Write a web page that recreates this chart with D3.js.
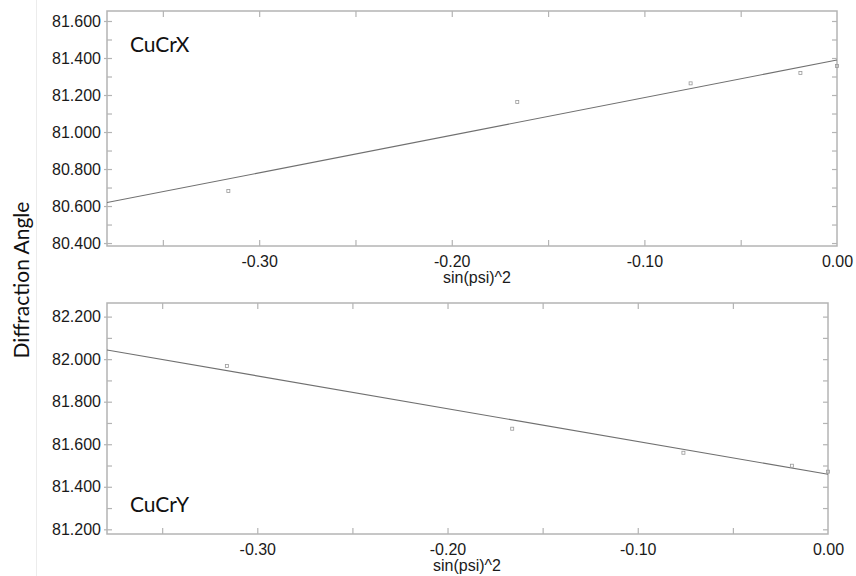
<!DOCTYPE html>
<html>
<head>
<meta charset="utf-8">
<script src="https://cdn.jsdelivr.net/npm/d3@7/dist/d3.min.js"></script>
<style>
  html, body { margin: 0; padding: 0; background: #fff; }
  svg { display: block; }
</style>
</head>
<body>
<svg id="chart" width="856" height="576"></svg>
<script>
// sin^2(psi) positions of the measurements (shared by both directions)
const sin2psi = [-0.316, -0.166, -0.076, -0.019, 0.0];

// Measured peak positions (2-theta, degrees)
const angleX = [80.681, 81.162, 81.263, 81.319, 81.357];
const angleY = [81.968, 81.673, 81.560, 81.499, 81.471];

// Linear fit of each direction: angle = intercept + slope * sin^2(psi)
const fitX = { intercept: 81.389, slope: 2.032 };
const fitY = { intercept: 81.459, slope: -1.541 };

// Axis ticks
const xDomain = [-0.379, 0.0];
const xTickValues = [-0.30, -0.20, -0.10, 0.00];
const xTickLabels = ["-0.30", "-0.20", "-0.10", "0.00"];
const xMinorTicks = [-0.35, -0.30, -0.25, -0.20, -0.15, -0.10, -0.05];

const yDomainX = [80.384, 81.654];
const yTicksX = [80.4, 80.6, 80.8, 81.0, 81.2, 81.4, 81.6];
const yDomainY = [81.178, 82.264];
const yTicksY = [81.2, 81.4, 81.6, 81.8, 82.0, 82.2];

const panelNames = ["CuCrX", "CuCrY"];
const xTitle = "sin(psi)^2";
const yTitle = "Diffraction Angle";

const svg = d3.select("#chart");
const frameColor = "#b4b4b4";
const tickFont = "'Liberation Sans', Arial, sans-serif";
const labelFont = "Lato, 'Open Sans', sans-serif";

// faint separator at the far left of the figure
svg.append("line")
  .attr("x1", 36.5).attr("x2", 36.5).attr("y1", 0).attr("y2", 576)
  .attr("stroke", "#ececec").attr("stroke-width", 1);

const panels = [
  { name: panelNames[0], values: angleX, fit: fitX, yDomain: yDomainX, yTicks: yTicksX,
    left: 107, right: 837, top: 11, bottom: 246, titleX: 477, nameY: 51.5, nameX: 130 },
  { name: panelNames[1], values: angleY, fit: fitY, yDomain: yDomainY, yTicks: yTicksY,
    left: 107, right: 828, top: 303, bottom: 534, titleX: 467, nameY: 511.5, nameX: 130 }
];

function minorOf(ticks) {
  const out = [];
  ticks.forEach((t, i) => {
    out.push(t);
    if (i < ticks.length - 1) out.push(+(t + (ticks[i + 1] - t) / 2).toFixed(3));
  });
  return out;
}

panels.forEach(p => {
  const x = d3.scaleLinear().domain(xDomain).range([p.left, p.right]);
  const y = d3.scaleLinear().domain(p.yDomain).range([p.bottom, p.top]);
  const g = svg.append("g");

  // clip region of the plot frame
  const clipId = "clip-" + p.name;
  svg.append("clipPath").attr("id", clipId)
    .append("rect")
    .attr("x", p.left).attr("y", p.top)
    .attr("width", p.right - p.left).attr("height", p.bottom - p.top);

  const styleAxis = sel => {
    sel.selectAll(".domain").remove();
    sel.selectAll(".tick line").attr("stroke", frameColor).attr("stroke-width", 1.2);
    sel.selectAll(".tick text").attr("fill", "#1a1a1a")
      .style("font-family", tickFont).style("font-size", "16px");
  };

  // bottom axis: inward ticks every 0.05, labels every 0.10
  g.append("g").attr("transform", `translate(0,${p.bottom})`)
    .call(d3.axisBottom(x).tickValues(xMinorTicks).tickSize(-6).tickFormat(""))
    .call(styleAxis);
  g.append("g").attr("transform", `translate(0,${p.bottom})`)
    .call(d3.axisBottom(x).tickValues(xTickValues).tickSize(0).tickPadding(10)
      .tickFormat((d, i) => xTickLabels[i]))
    .call(styleAxis);

  // top axis: inward ticks, no labels
  g.append("g").attr("transform", `translate(0,${p.top})`)
    .call(d3.axisTop(x).tickValues(xMinorTicks).tickSize(-6).tickFormat(""))
    .call(styleAxis);

  // left axis: inward ticks every 0.1, labels every 0.2
  const yMinor = minorOf(p.yTicks).filter(v => v >= p.yDomain[0] && v <= p.yDomain[1]);
  g.append("g").attr("transform", `translate(${p.left},0)`)
    .call(d3.axisLeft(y).tickValues(yMinor).tickSize(-5).tickFormat(""))
    .call(styleAxis);
  g.append("g").attr("transform", `translate(${p.left},0)`)
    .call(d3.axisLeft(y).tickValues(p.yTicks).tickSize(3).tickPadding(3)
      .tickFormat(d3.format(".3f")))
    .call(styleAxis);

  // right axis: inward ticks
  g.append("g").attr("transform", `translate(${p.right},0)`)
    .call(d3.axisRight(y).tickValues(yMinor).tickSize(-5).tickFormat(""))
    .call(styleAxis);

  // frame
  g.append("rect")
    .attr("x", p.left).attr("y", p.top)
    .attr("width", p.right - p.left).attr("height", p.bottom - p.top)
    .attr("fill", "none").attr("stroke", frameColor).attr("stroke-width", 1.5);

  // fitted line across the full x range
  const fitLine = d3.line()
    .x(d => x(d))
    .y(d => y(p.fit.intercept + p.fit.slope * d));
  g.append("path")
    .datum(xDomain)
    .attr("d", fitLine)
    .attr("fill", "none")
    .attr("stroke", "#707070")
    .attr("stroke-width", 1.1)
    .attr("clip-path", `url(#${clipId})`);

  // measured points as small open squares
  g.selectAll("rect.pt")
    .data(sin2psi.map((s, i) => [s, p.values[i]]))
    .join("rect")
    .attr("class", "pt")
    .attr("x", d => x(d[0]) - 1.5)
    .attr("y", d => y(d[1]) - 1.5)
    .attr("width", 3).attr("height", 3)
    .attr("fill", "none")
    .attr("stroke", "#999")
    .attr("stroke-width", 0.8);

  // x-axis title
  g.append("text")
    .attr("x", p.titleX).attr("y", p.bottom + 37)
    .attr("text-anchor", "middle")
    .style("font-family", tickFont).style("font-size", "16px")
    .attr("fill", "#1a1a1a")
    .text(xTitle);

  // panel name
  g.append("text")
    .attr("x", p.nameX).attr("y", p.nameY)
    .style("font-family", labelFont).style("font-size", "21px")
    .attr("fill", "#111")
    .text(p.name);
});

// shared y-axis title
svg.append("text")
  .attr("transform", "translate(29,280) rotate(-90)")
  .attr("text-anchor", "middle")
  .style("font-family", labelFont).style("font-size", "21px")
  .attr("fill", "#111")
  .text(yTitle);
</script>
</body>
</html>
